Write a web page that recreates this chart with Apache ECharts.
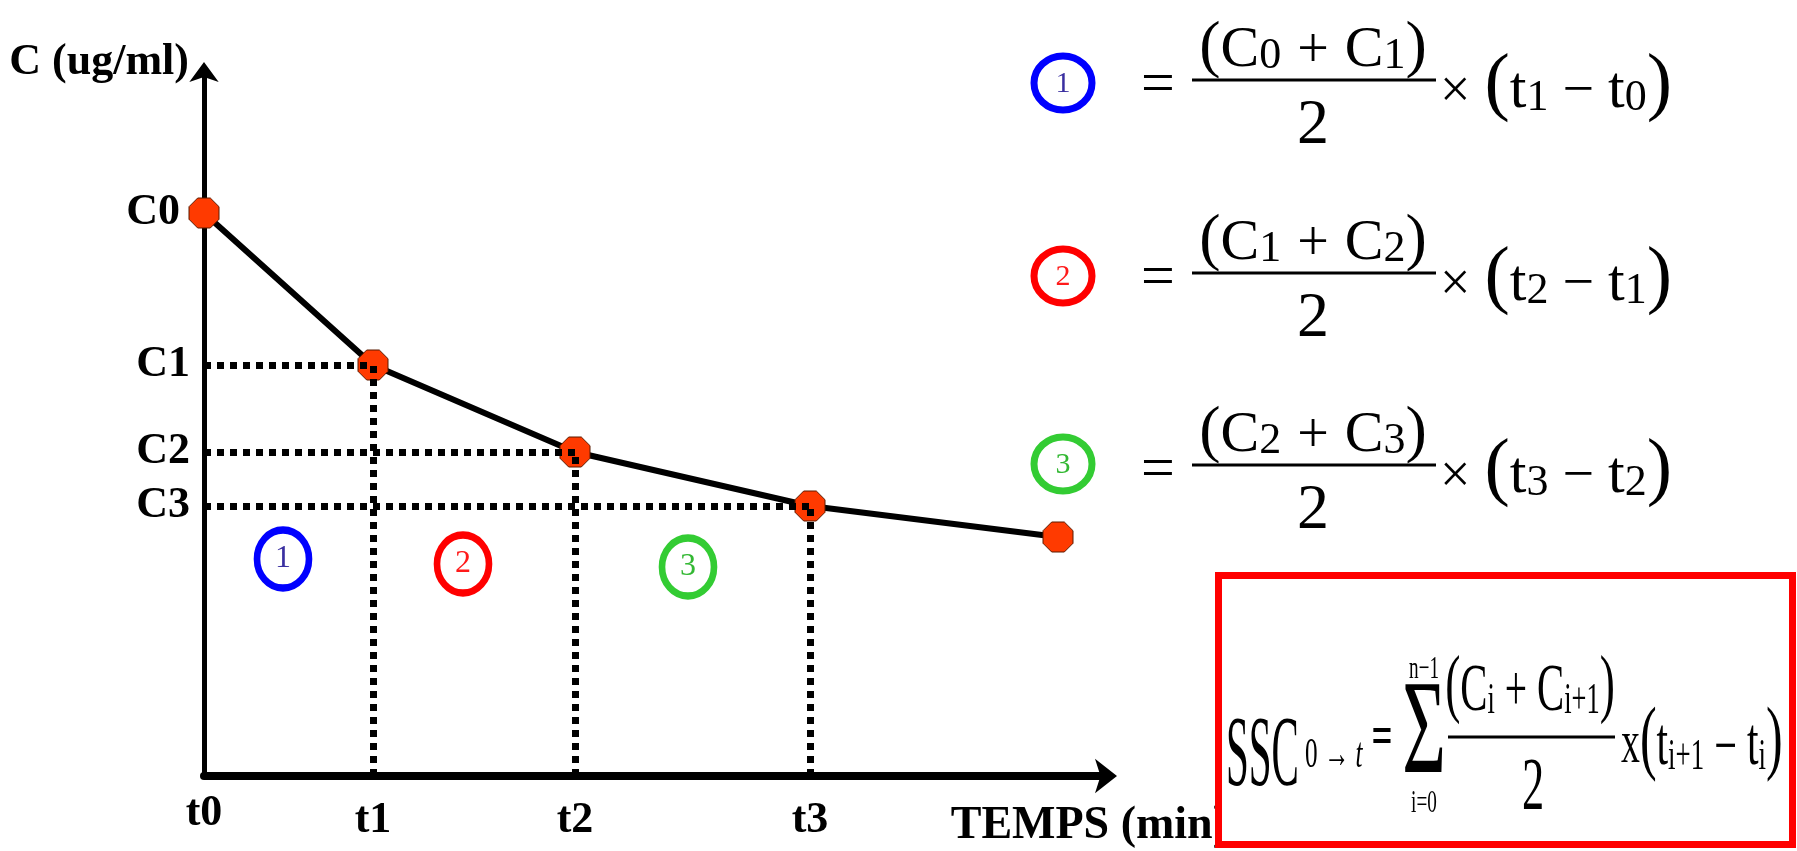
<!DOCTYPE html>
<html>
<head>
<meta charset="utf-8">
<title>SSC - méthode des trapèzes</title>
<script src="https://cdn.jsdelivr.net/npm/echarts@6/dist/echarts.min.js"></script>
<style>
  html, body { margin: 0; padding: 0; background: #fff; }
  #chart { width: 1797px; height: 851px; }
</style>
</head>
<body>
<div id="chart"></div>
<script>
// points de la courbe (unités arbitraires)
const times = [0, 1.69, 3.71, 6.06, 8.54]
const concentrations = [5.63, 4.11, 3.24, 2.70, 2.39]
const timeLabels = ['t0', 't1', 't2', 't3']
const concLabels = ['C0', 'C1', 'C2', 'C3']

// repères numérotés des trapèzes
const zoneNames = ['1', '2', '3']
const zoneTimes = [0.79, 2.59, 4.84]
const zoneConc = [2.17, 2.12, 2.09]

const serif = '"Liberation Serif", "Times New Roman", serif'
const zoneColors = ['#0000ff', '#ff0000', '#33cc33']
const zoneTextColors = ['#3a2fa0', '#ff1a1a', '#33b833']
const octagon = 'path://M0.29,0 L0.71,0 L1,0.29 L1,0.71 L0.71,1 L0.29,1 L0,0.71 L0,0.29 Z'

// retrouver l'indice d'une valeur de graduation
function nearestIndex(arr, v) {
  let best = 0
  arr.forEach((a, i) => { if (Math.abs(a - v) < Math.abs(arr[best] - v)) best = i })
  return best
}

// pointillés : axe -> point -> axe
const guides = []
for (let i = 1; i < timeLabels.length; i++) {
  guides.push([{ coord: [0, concentrations[i]] }, { coord: [times[i], concentrations[i]] }])
  guides.push([{ coord: [times[i], 0] }, { coord: [times[i], concentrations[i]] }])
}

// --- textes des formules (graphic) ---
const r = (size, extra) => Object.assign({ fontSize: size, fontFamily: serif, fill: '#000', verticalAlign: 'bottom' }, extra || {})

function txt(x, y, text, o) {
  return {
    type: 'text', x, y, scaleX: o.scaleX || 1, silent: true, z: 10,
    style: {
      text,
      fill: o.color || '#000',
      fontFamily: serif,
      fontSize: o.size,
      fontWeight: o.weight || 'normal',
      fontStyle: o.italic ? 'italic' : 'normal',
      align: o.align || 'center',
      verticalAlign: 'middle',
      rich: o.rich
    }
  }
}

const numRich = { p: r(64), m: r(58), s: r(44, { padding: [0, 0, 2, 0] }), o: r(56, { padding: [0, 16, 0, 16] }) }
const rightRich = {
  x: r(54, { padding: [0, 14, 4, 0] }),
  p: r(76),
  m: r(60, { padding: [0, 0, 3, 0] }),
  s: r(44, { padding: [0, 0, 4, 0] }),
  o: r(56, { padding: [0, 14, 4, 14] })
}

const graphics = []
const rowBarY = [80, 273, 465]
const rowCircleY = [83, 276, 464]
rowBarY.forEach((by, k) => {
  const a = k, b = k + 1
  graphics.push({ type: 'ellipse', shape: { cx: 1063, cy: rowCircleY[k], rx: 29, ry: 27 }, style: { fill: '#fff', stroke: zoneColors[k], lineWidth: 7 }, z: 10, silent: true })
  graphics.push(txt(1063, rowCircleY[k] + 1, zoneNames[k], { size: 30, color: zoneTextColors[k] }))
  graphics.push(txt(1158, by + 6, '=', { size: 60 }))
  graphics.push({ type: 'line', shape: { x1: 1192, y1: by, x2: 1436, y2: by }, style: { stroke: '#000', lineWidth: 3 }, z: 10, silent: true })
  graphics.push(txt(1313, by - 32, `{p|(}{m|C}{s|${a}}{o|+}{m|C}{s|${b}}{p|)}`, { size: 58, rich: numRich }))
  graphics.push(txt(1313, by + 46, '2', { size: 64 }))
  graphics.push(txt(1440, by + 6, `{x|×}{p|(}{m|t}{s|${b}}{o|−}{m|t}{s|${a}}{p|)}`, { size: 60, align: 'left', rich: rightRich }))
})

// encadré rouge avec la formule générale
graphics.push({ type: 'rect', shape: { x: 1218.5, y: 575.5, width: 574, height: 269 }, style: { fill: '#fff', stroke: '#ff0000', lineWidth: 7 }, z: 9, silent: true })
graphics.push(txt(1226, 758, 'SSC', { size: 100, align: 'left', scaleX: 0.41 }))
graphics.push(txt(1305, 756, '{a|0 → }{b|t}', { size: 42, align: 'left', scaleX: 0.6, rich: { a: r(42), b: r(42, { fontStyle: 'italic' }) } }))
graphics.push(txt(1382, 740, '=', { size: 56, weight: 'bold', scaleX: 0.66 }))
graphics.push(txt(1424, 737, 'Σ', { size: 134, scaleX: 0.56 }))
graphics.push(txt(1424, 670, 'n−1', { size: 32, scaleX: 0.6 }))
graphics.push(txt(1424, 804, 'i=0', { size: 32, scaleX: 0.6 }))
graphics.push(txt(1530, 688, '{p|(}{m|C}{s|i}{o| + }{m|C}{s|i+1}{p|)}', { size: 66, scaleX: 0.6, rich: { p: r(76), m: r(68), s: r(44, { padding: [0, 0, 3, 0] }), o: r(66) } }))
graphics.push({ type: 'line', shape: { x1: 1448, y1: 737, x2: 1615, y2: 737 }, style: { stroke: '#000', lineWidth: 3 }, z: 10, silent: true })
graphics.push(txt(1533, 790, '2', { size: 74, scaleX: 0.6 }))
graphics.push(txt(1621, 742, '{x|x}{p|(}{m|t}{s|i+1}{o| − }{m|t}{s|i}{p|)}', { size: 66, align: 'left', scaleX: 0.61, rich: { x: r(62, { padding: [0, 0, 6, 0] }), p: r(82), m: r(68, { padding: [0, 0, 3, 0] }), s: r(44, { padding: [0, 0, 4, 0] }), o: r(66) } }))

const chart = echarts.init(document.getElementById('chart'))

const boldLabel = { fontFamily: serif, fontSize: 44, fontWeight: 'bold', color: '#000' }

chart.setOption({
  animation: false,
  grid: { left: 204, top: 76, width: 900, height: 700, containLabel: false },
  xAxis: {
    type: 'value',
    min: 0,
    max: 9,
    name: 'TEMPS (min)',
    nameLocation: 'end',
    nameGap: 124,
    nameTextStyle: Object.assign({ align: 'right', verticalAlign: 'top', padding: [27, 0, 0, 0] }, boldLabel, { fontSize: 46 }),
    axisLine: { symbol: ['none', 'arrow'], symbolSize: [26, 22], symbolOffset: [0, 13], lineStyle: { color: '#000', width: 8 } },
    axisTick: { show: false },
    splitLine: { show: false },
    axisLabel: {
      customValues: times.slice(0, 4),
      formatter: v => {
        const i = nearestIndex(times, v)
        return i === 0 ? '{a|' + timeLabels[i] + '}' : '{b|' + timeLabels[i] + '}'
      },
      margin: 16,
      ...boldLabel,
      rich: {
        a: { ...boldLabel },
        b: { ...boldLabel, padding: [7, 0, 0, 0] }
      }
    }
  },
  yAxis: {
    type: 'value',
    min: 0,
    max: 7,
    name: 'C (ug/ml)',
    nameLocation: 'end',
    nameGap: 13,
    nameTextStyle: Object.assign({ align: 'right', verticalAlign: 'middle', padding: [0, 15, 0, 0] }, boldLabel),
    axisLine: { symbol: ['none', 'arrow'], symbolSize: [22, 20], symbolOffset: [0, 14], lineStyle: { color: '#000', width: 5 } },
    axisTick: { show: false },
    splitLine: { show: false },
    axisLabel: {
      customValues: concentrations.slice(0, 4),
      formatter: v => {
        const i = nearestIndex(concentrations, v)
        return i === 0 ? '{a|' + concLabels[i] + '}' : '{b|' + concLabels[i] + '}'
      },
      margin: 14,
      ...boldLabel,
      rich: {
        a: { ...boldLabel, padding: [0, 10, 0, 0] },
        b: { ...boldLabel }
      }
    }
  },
  series: [
    {
      type: 'line',
      data: times.map((t, i) => [t, concentrations[i]]),
      clip: false,
      symbol: octagon,
      symbolSize: 30,
      showAllSymbol: true,
      lineStyle: { color: '#000', width: 6 },
      itemStyle: { color: '#ff3a00', borderColor: '#5a1a00', borderWidth: 1 },
      markLine: {
        silent: true,
        symbol: 'none',
        label: { show: false },
        lineStyle: { color: '#000', width: 7, type: [7, 6], cap: 'butt' },
        data: guides
      },
      z: 3
    },
    {
      type: 'scatter',
      clip: false,
      symbol: 'circle',
      symbolSize: [52, 58],
      data: zoneNames.map((n, i) => ({
        value: [zoneTimes[i], zoneConc[i]],
        name: n,
        itemStyle: { borderColor: zoneColors[i] },
        label: { color: zoneTextColors[i] }
      })),
      itemStyle: { color: '#fff', borderWidth: 7, opacity: 1 },
      label: { show: true, position: 'inside', formatter: '{b}', fontFamily: serif, fontSize: 32 },
      z: 4
    }
  ],
  graphic: { elements: graphics }
})
</script>
</body>
</html>
